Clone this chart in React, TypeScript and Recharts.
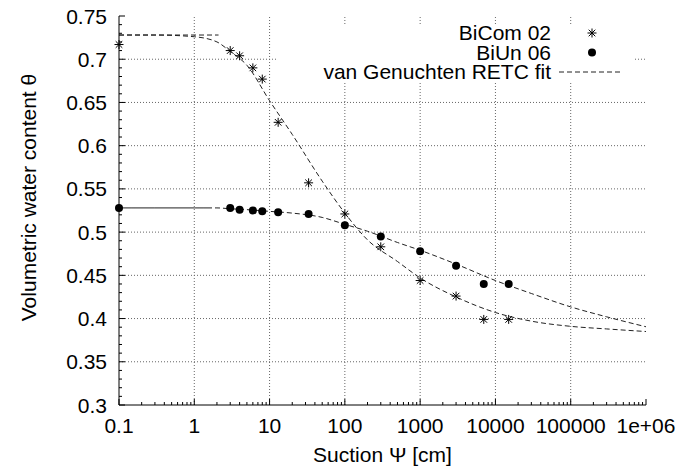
import { ComposedChart, Legend, Line, ReferenceLine, Scatter, XAxis, YAxis } from 'recharts'

// measured points (suction in cm, volumetric water content)
const suction = [0.1, 3, 4, 6, 8, 13, 33, 100, 300, 1000, 3000, 7000, 15000]
const thetaBiCom02 = [0.717, 0.71, 0.704, 0.69, 0.677, 0.627, 0.557, 0.521, 0.483, 0.444, 0.426, 0.399, 0.399]
const thetaBiUn06 = [0.528, 0.528, 0.526, 0.525, 0.524, 0.523, 0.521, 0.508, 0.495, 0.478, 0.461, 0.44, 0.44]

// van Genuchten fit curves
const fitSuction = [0.1, 0.3, 1, 2, 3, 5, 10, 20, 50, 100, 200, 500, 1000, 3000, 10000, 30000, 100000, 300000, 1000000]
const fitBiCom02 = [0.728, 0.728, 0.726, 0.72, 0.709, 0.693, 0.652, 0.613, 0.559, 0.522, 0.491, 0.466, 0.447, 0.425, 0.407, 0.397, 0.391, 0.388, 0.385]
const fitBiUn06 = [0.528, 0.528, 0.528, 0.528, 0.527, 0.526, 0.524, 0.522, 0.517, 0.509, 0.501, 0.488, 0.479, 0.463, 0.444, 0.429, 0.4135, 0.402, 0.3905]

// short saturated plateaus drawn over the start of the fits
const plateauSuctionBiCom02 = [0.1, 2.1]
const plateauBiCom02 = [0.728, 0.728]
const plateauSuctionBiUn06 = [0.1, 1.6]
const plateauBiUn06 = [0.528, 0.528]

const xMajorTicks = [0.1, 1, 10, 100, 1000, 10000, 100000, 1000000]
const xTickLabels = ['0.1', '1', '10', '100', '1000', '10000', '100000', '1e+06']
const yMajorTicks = [0.3, 0.35, 0.4, 0.45, 0.5, 0.55, 0.6, 0.65, 0.7, 0.75]
const yTickLabels = ['0.3', '0.35', '0.4', '0.45', '0.5', '0.55', '0.6', '0.65', '0.7', '0.75']

const xMinorTicks = xMajorTicks.slice(0, -1).flatMap((d) => [2, 3, 4, 5, 6, 7, 8, 9].map((k) => d * k))
const yMinorTicks: number[] = []
for (let i = 30; i <= 75; i++) {
  if (i % 5 !== 0) yMinorTicks.push(i / 100)
}
const xTicks = [...xMajorTicks, ...xMinorTicks]
const yTicks = [...yMajorTicks, ...yMinorTicks]

const pairs = (xs: number[], ys: number[]) => xs.map((x, i) => ({ suction: x, theta: ys[i] }))

const font = '"Liberation Sans", Arial, Helvetica, sans-serif'
const fontSize = 21
const MAJOR = 6
const MINOR = 3

function BottomTick(props: any) {
  const { x, y, payload } = props
  const idx = xMajorTicks.indexOf(payload.value)
  return (
    <g>
      <line x1={x} x2={x} y1={y} y2={y - (idx >= 0 ? MAJOR : MINOR)} stroke="#000" />
      {idx >= 0 && (
        <text x={x} y={y + 28} textAnchor="middle" fontFamily={font} fontSize={fontSize} fill="#000">
          {xTickLabels[idx]}
        </text>
      )}
    </g>
  )
}

function TopTick(props: any) {
  const { x, y, payload } = props
  const major = xMajorTicks.includes(payload.value)
  return <line x1={x} x2={x} y1={y} y2={y + (major ? MAJOR : MINOR)} stroke="#000" />
}

function LeftTick(props: any) {
  const { x, y, payload } = props
  const idx = yMajorTicks.indexOf(payload.value)
  return (
    <g>
      <line x1={x} x2={x + (idx >= 0 ? MAJOR : MINOR)} y1={y} y2={y} stroke="#000" />
      {idx >= 0 && (
        <text x={x - 12} y={y + 7.5} textAnchor="end" fontFamily={font} fontSize={fontSize} fill="#000">
          {yTickLabels[idx]}
        </text>
      )}
    </g>
  )
}

function RightTick(props: any) {
  const { x, y, payload } = props
  const major = yMajorTicks.includes(payload.value)
  return <line x1={x} x2={x - (major ? MAJOR : MINOR)} y1={y} y2={y} stroke="#000" />
}

function Asterisk(props: any) {
  const { cx, cy } = props
  const r = 4.5
  const d = 3.3
  return (
    <g stroke="#000" strokeWidth={1}>
      <line x1={cx - r} x2={cx + r} y1={cy} y2={cy} />
      <line x1={cx} x2={cx} y1={cy - r} y2={cy + r} />
      <line x1={cx - d} x2={cx + d} y1={cy - d} y2={cy + d} />
      <line x1={cx - d} x2={cx + d} y1={cy + d} y2={cy - d} />
    </g>
  )
}

function Dot(props: any) {
  const { cx, cy } = props
  return <circle cx={cx} cy={cy} r={4} fill="#000" />
}

function YTitle(props: any) {
  const { viewBox } = props
  const x = viewBox.x + 28
  const y = viewBox.y + viewBox.height / 2 - 13
  return (
    <text
      x={x}
      y={y}
      transform={`rotate(-90 ${x} ${y})`}
      textAnchor="middle"
      dominantBaseline="central"
      fontFamily={font}
      fontSize={fontSize}
      fill="#000"
    >
      Volumetric water content θ
    </text>
  )
}

function KeyBox() {
  const textProps = { textAnchor: 'end' as const, fontFamily: font, fontSize, fill: '#000' }
  return (
    <svg width={356} height={57} style={{ display: 'block', background: '#fff' }}>
      <text x={274} y={15} {...textProps}>BiCom 02</text>
      <Asterisk cx={315} cy={8} />
      <text x={274} y={34.5} {...textProps}>BiUn 06</text>
      <Dot cx={315} cy={27.5} />
      <text x={274} y={54} {...textProps}>van Genuchten RETC fit</text>
      <line x1={282} x2={343} y1={47} y2={47} stroke="#222" strokeDasharray="5 3" />
    </svg>
  )
}

const gridStyle = { stroke: '#666', strokeDasharray: '1 2', strokeWidth: 1 }
const fitStyle = { stroke: '#222', strokeWidth: 1, strokeDasharray: '5 3' }

export default function App() {
  return (
    <div style={{ position: 'absolute', left: 0, top: 0, background: '#fff' }}>
      <ComposedChart width={679} height={470} margin={{ top: 16, right: 33, bottom: 0, left: 0 }}>
        <XAxis
          xAxisId="bottom"
          dataKey="suction"
          type="number"
          scale="log"
          domain={[0.1, 1000000]}
          ticks={xTicks}
          interval={0}
          tick={<BottomTick />}
          tickLine={false}
          tickSize={0}
          tickMargin={0}
          height={65}
          axisLine={{ stroke: '#000' }}
          label={{
            value: 'Suction Ψ [cm]',
            position: 'insideBottom',
            offset: 8,
            fontFamily: font,
            fontSize,
            fill: '#000',
          }}
        />
        <XAxis
          xAxisId="top"
          orientation="top"
          type="number"
          scale="log"
          domain={[0.1, 1000000]}
          ticks={xTicks}
          interval={0}
          tick={<TopTick />}
          tickLine={false}
          tickSize={0}
          tickMargin={0}
          height={0}
          axisLine={{ stroke: '#000' }}
        />
        <YAxis
          yAxisId="left"
          dataKey="theta"
          type="number"
          domain={[0.3, 0.75]}
          ticks={yTicks}
          interval={0}
          tick={<LeftTick />}
          tickLine={false}
          tickSize={0}
          tickMargin={0}
          width={119}
          axisLine={{ stroke: '#000' }}
          label={(p: any) => <YTitle {...p} />}
        />
        <YAxis
          yAxisId="right"
          orientation="right"
          type="number"
          domain={[0.3, 0.75]}
          ticks={yTicks}
          interval={0}
          tick={<RightTick />}
          tickLine={false}
          tickSize={0}
          tickMargin={0}
          width={0}
          axisLine={{ stroke: '#000' }}
        />

        {xMajorTicks.slice(1, -1).map((v) => (
          <ReferenceLine key={`gx${v}`} x={v} xAxisId="bottom" yAxisId="left" {...gridStyle} />
        ))}
        {yMajorTicks.slice(1, -1).map((v) => (
          <ReferenceLine key={`gy${v}`} y={v} xAxisId="bottom" yAxisId="left" {...gridStyle} />
        ))}

        <Line
          xAxisId="bottom"
          yAxisId="left"
          data={pairs(fitSuction, fitBiCom02)}
          dataKey="theta"
          type="monotone"
          dot={false}
          activeDot={false}
          isAnimationActive={false}
          {...fitStyle}
        />
        <Line
          xAxisId="bottom"
          yAxisId="left"
          data={pairs(fitSuction, fitBiUn06)}
          dataKey="theta"
          type="monotone"
          dot={false}
          activeDot={false}
          isAnimationActive={false}
          {...fitStyle}
        />
        <Line
          xAxisId="bottom"
          yAxisId="left"
          data={pairs(plateauSuctionBiCom02, plateauBiCom02)}
          dataKey="theta"
          type="linear"
          dot={false}
          activeDot={false}
          isAnimationActive={false}
          {...fitStyle}
        />
        <Line
          xAxisId="bottom"
          yAxisId="left"
          data={pairs(plateauSuctionBiUn06, plateauBiUn06)}
          dataKey="theta"
          type="linear"
          dot={false}
          activeDot={false}
          isAnimationActive={false}
          stroke="#222"
          strokeWidth={1}
          strokeDasharray="3 5"
          strokeDashoffset={-5}
        />

        <Scatter
          xAxisId="bottom"
          yAxisId="left"
          name="BiCom 02"
          data={pairs(suction, thetaBiCom02)}
          dataKey="theta"
          shape={<Asterisk />}
          isAnimationActive={false}
        />
        <Scatter
          xAxisId="bottom"
          yAxisId="left"
          name="BiUn 06"
          data={pairs(suction, thetaBiUn06)}
          dataKey="theta"
          shape={<Dot />}
          isAnimationActive={false}
        />

        <Legend
          verticalAlign="middle"
          layout="horizontal"
          content={() => <KeyBox />}
          wrapperStyle={{ position: 'absolute', left: 277, top: 25, width: 356, height: 57 }}
        />
      </ComposedChart>
    </div>
  )
}
